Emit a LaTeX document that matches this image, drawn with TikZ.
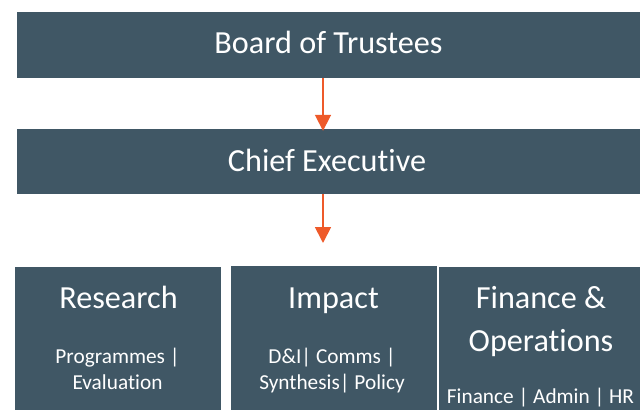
\documentclass[tikz,border=0pt]{standalone}
\usepackage{fontspec}
\setmainfont{Carlito}[Ligatures={NoCommon}]
\usetikzlibrary{arrows.meta, positioning}
\definecolor{unitslate}{RGB}{64, 87, 101}
\definecolor{linkorange}{RGB}{238, 90, 42}

\begin{document}
\begin{tikzpicture}[x=1pt, y=-1pt,
  unitbox/.style={fill=unitslate, inner sep=0pt},
  headtext/.style={text=white, font=\fontsize{32.2}{43}\selectfont, inner sep=0pt, align=center},
  subtext/.style={text=white, font=\fontsize{21.3}{26}\selectfont, inner sep=0pt, align=center},
  linkarrow/.style={-{Triangle[width=16pt, length=16pt]}, line width=1.8pt, linkorange}]
  \useasboundingbox (0,0) rectangle (644,410);

  % Governance
  \node[unitbox, minimum width=623pt, minimum height=66pt] (board) at (328.5, 45) {};
  \node[headtext, anchor=base] (boardtext) at (328.5, 53) {Board of Trustees};
  \node[unitbox, minimum width=623pt, minimum height=65pt] (chief) at (328.5, 161.5) {};
  \node[headtext, anchor=base] (chieftext) at (327, 171) {Chief Executive};

  \draw[linkarrow] ([xshift=-5.5pt]board.south) -- ([xshift=-5.5pt, yshift=-2pt]chief.north);
  \coordinate (teamtop) at (323, 243);
  \draw[linkarrow] ([xshift=-5.5pt]chief.south) -- (teamtop);

  % Teams
  \node[unitbox, minimum width=206pt, minimum height=143pt] (research) at (118, 338.5) {};
  \node[headtext, anchor=base] (researchtitle) at (118.5, 308) {Research};
  \node[subtext, anchor=base] (researchsub) at (117.5, 389) {Programmes |\\Evaluation};

  \node[unitbox, minimum width=206pt, minimum height=144pt] (impact) at (334, 338) {};
  \node[headtext, anchor=base] (impacttitle) at (333.5, 308) {Impact};
  \node[subtext, anchor=base] (impactsub) at (332, 389) {D\&I| Comms |\\Synthesis| Policy};

  \node[unitbox, minimum width=201pt, minimum height=143pt] (finance) at (539.5, 338.5) {};
  \node[headtext, anchor=base] (financetitle) at (541, 351) {Finance \&\\Operations};
  \node[subtext, anchor=base] (financesub) at (540.5, 403) {Finance | Admin | HR};
\end{tikzpicture}
\end{document}
